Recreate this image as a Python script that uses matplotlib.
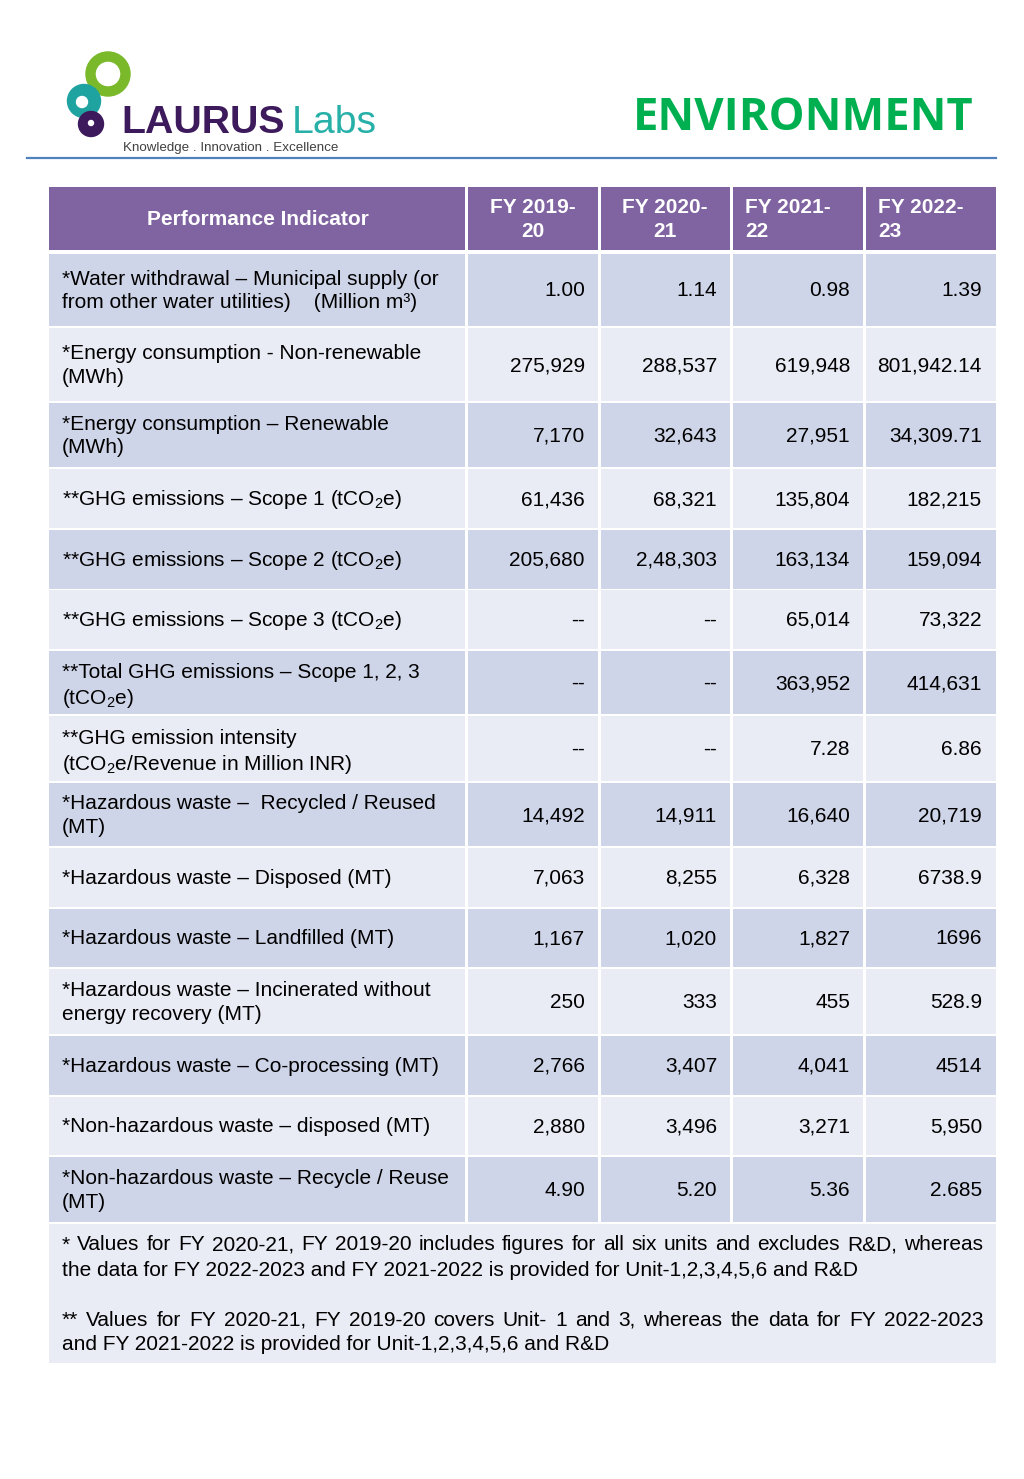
import matplotlib
matplotlib.use("Agg")
import matplotlib.pyplot as plt
from matplotlib.patches import Rectangle, Circle

plt.rcParams['font.family'] = ['Liberation Sans', 'DejaVu Sans']
plt.rcParams['mathtext.fontset'] = 'custom'
plt.rcParams['mathtext.rm'] = 'Liberation Sans'
plt.rcParams['mathtext.it'] = 'Liberation Sans'

# ---- table data ----
header_first = "Performance Indicator"
fy_labels = ["FY 2019-\n20", "FY 2020-\n21", "FY 2021-\n22", "FY 2022-\n23"]

indicators = [
    "*Water withdrawal – Municipal supply (or\nfrom other water utilities)    (Million m³)",
    "*Energy consumption - Non-renewable\n(MWh)",
    "*Energy consumption – Renewable\n(MWh)",
    "**GHG emissions – Scope 1 (tCO$_2$e)",
    "**GHG emissions – Scope 2 (tCO$_2$e)",
    "**GHG emissions – Scope 3 (tCO$_2$e)",
    "**Total GHG emissions – Scope 1, 2, 3\n(tCO$_2$e)",
    "**GHG emission intensity\n(tCO$_2$e/Revenue in Million INR)",
    "*Hazardous waste –  Recycled / Reused\n(MT)",
    "*Hazardous waste – Disposed (MT)",
    "*Hazardous waste – Landfilled (MT)",
    "*Hazardous waste – Incinerated without\nenergy recovery (MT)",
    "*Hazardous waste – Co-processing (MT)",
    "*Non-hazardous waste – disposed (MT)",
    "*Non-hazardous waste – Recycle / Reuse\n(MT)",
]

fy1920 = ["1.00", "275,929", "7,170", "61,436", "205,680", "--", "--", "--",
          "14,492", "7,063", "1,167", "250", "2,766", "2,880", "4.90"]
fy2021 = ["1.14", "288,537", "32,643", "68,321", "2,48,303", "--", "--", "--",
          "14,911", "8,255", "1,020", "333", "3,407", "3,496", "5.20"]
fy2122 = ["0.98", "619,948", "27,951", "135,804", "163,134", "65,014", "363,952", "7.28",
          "16,640", "6,328", "1,827", "455", "4,041", "3,271", "5.36"]
fy2223 = ["1.39", "801,942.14", "34,309.71", "182,215", "159,094", "73,322", "414,631", "6.86",
          "20,719", "6738.9", "1696", "528.9", "4514", "5,950", "2.685"]

footnotes = [
    ["* Values for FY 2020-21, FY 2019-20 includes figures for all six units and excludes R&D, whereas",
     "the data for FY 2022-2023 and FY 2021-2022 is provided for Unit-1,2,3,4,5,6 and R&D"],
    ["** Values for FY 2020-21, FY 2019-20 covers Unit- 1 and 3, whereas the data for FY 2022-2023",
     "and FY 2021-2022 is provided for Unit-1,2,3,4,5,6 and R&D"],
]

# ---- layout (pixels) ----
col_edges = [49, 466, 599, 731, 864, 996]
header_top, header_bot = 187, 250
row_tops = [254, 328, 403, 469, 530, 590, 651, 716, 783, 848, 909, 969, 1036, 1097, 1157]
row_bots = [326, 401, 467, 528, 589, 649, 714, 781, 846, 907, 967, 1034, 1095, 1155, 1222]
foot_top, foot_bot = 1224, 1363

purple = "#8064a2"
dark_row = "#cfd5e8"
light_row = "#e9ebf5"
fs = 15.0
lsp = 1.32

fig = plt.figure(figsize=(10.24, 14.79), dpi=100)
ax = fig.add_axes([0, 0, 1, 1])
ax.set_xlim(0, 1024)
ax.set_ylim(1479, 0)
ax.axis('off')

# ---- logo ----
ax.add_patch(Circle((108, 74), 17.5, fill=False, lw=7.5, ec="#7ab929"))
ax.add_patch(Circle((84, 101), 16.5, color="#1fa3a0"))
ax.add_patch(Circle((82, 102), 5.5, color="white"))
ax.add_patch(Circle((91, 124), 12.5, color="#3d1a5c"))
ax.add_patch(Circle((91, 123), 2.5, color="white"))
ax.text(121, 133, "LAURUS", fontsize=28.3, fontweight='bold', color="#3d1a5c",
        ha='left', va='baseline')
ax.text(292, 133, "Labs", fontsize=28.3, color="#26b0a8", ha='left', va='baseline')
ax.text(123, 148, "Knowledge . Innovation . Excellence", fontsize=9.6, color="#404040",
        ha='left', va='center')
ax.plot([27, 996], [158, 158], color="#4f81bd", lw=1.6)

ax.text(633, 119, "ENVIRONMENT", fontsize=32.6, fontweight='bold', color="#00b050",
        family="Open Sans", ha='left', va='center')

# ---- header ----
gap = 1.5
for i in range(5):
    x0, x1 = col_edges[i] + (gap if i else 0), col_edges[i + 1] - (gap if i < 4 else 0)
    ax.add_patch(Rectangle((x0, header_top), x1 - x0, header_bot - header_top,
                           color=purple, lw=0))
hy = (header_top + header_bot) / 2 + 1
ax.text((col_edges[0] + col_edges[1]) / 2, hy, header_first, color="white",
        fontsize=fs, fontweight='bold', ha='center', va='center')
for i, lab in enumerate(fy_labels):
    if i < 2:
        ax.text((col_edges[i + 1] + col_edges[i + 2]) / 2, hy, lab, color="white",
                fontsize=fs, fontweight='bold', ha='center', va='center',
                multialignment='center', linespacing=lsp)
    else:
        ax.text(col_edges[i + 1] + 14, hy, lab, color="white", fontsize=fs,
                fontweight='bold', ha='left', va='center', multialignment='left',
                linespacing=lsp)

# ---- body ----
columns = [fy1920, fy2021, fy2122, fy2223]
for r, label in enumerate(indicators):
    top, bot = row_tops[r], row_bots[r]
    fc = dark_row if r % 2 == 0 else light_row
    for i in range(5):
        x0, x1 = col_edges[i] + (gap if i else 0), col_edges[i + 1] - (gap if i < 4 else 0)
        ax.add_patch(Rectangle((x0, top), x1 - x0, bot - top, color=fc, lw=0))
    cy = (top + bot) / 2 + 1
    # subscript on the last line pushes a two-line label up a little
    ly = cy + 3 if ("\n" in label and "$_" in label) else cy
    ax.text(62, ly, label, fontsize=fs, ha='left', va='center', linespacing=lsp)
    for i, col in enumerate(columns):
        ax.text(col_edges[i + 2] - 14, cy, col[r], fontsize=fs, ha='right', va='center')

# ---- footnotes (justified) ----
ax.add_patch(Rectangle((col_edges[0], foot_top), col_edges[-1] - col_edges[0],
                       foot_bot - foot_top, color=light_row, lw=0))
fig.canvas.draw()
renderer = fig.canvas.get_renderer()
left, right = 62, 983
line_y = [[1245, 1270], [1320, 1345]]
for p, para in enumerate(footnotes):
    for l, line in enumerate(para):
        y = line_y[p][l]
        if l == len(para) - 1:
            ax.text(left, y, line, fontsize=fs, ha='left', va='center')
            continue
        words = line.split(" ")
        objs = [ax.text(0, y, w, fontsize=fs, ha='left', va='center') for w in words]
        widths = [o.get_window_extent(renderer).width for o in objs]
        space = (right - left - sum(widths)) / (len(words) - 1)
        x = left
        for o, w in zip(objs, widths):
            o.set_x(x)
            x += w + space

fig.savefig("out.png", dpi=100)
